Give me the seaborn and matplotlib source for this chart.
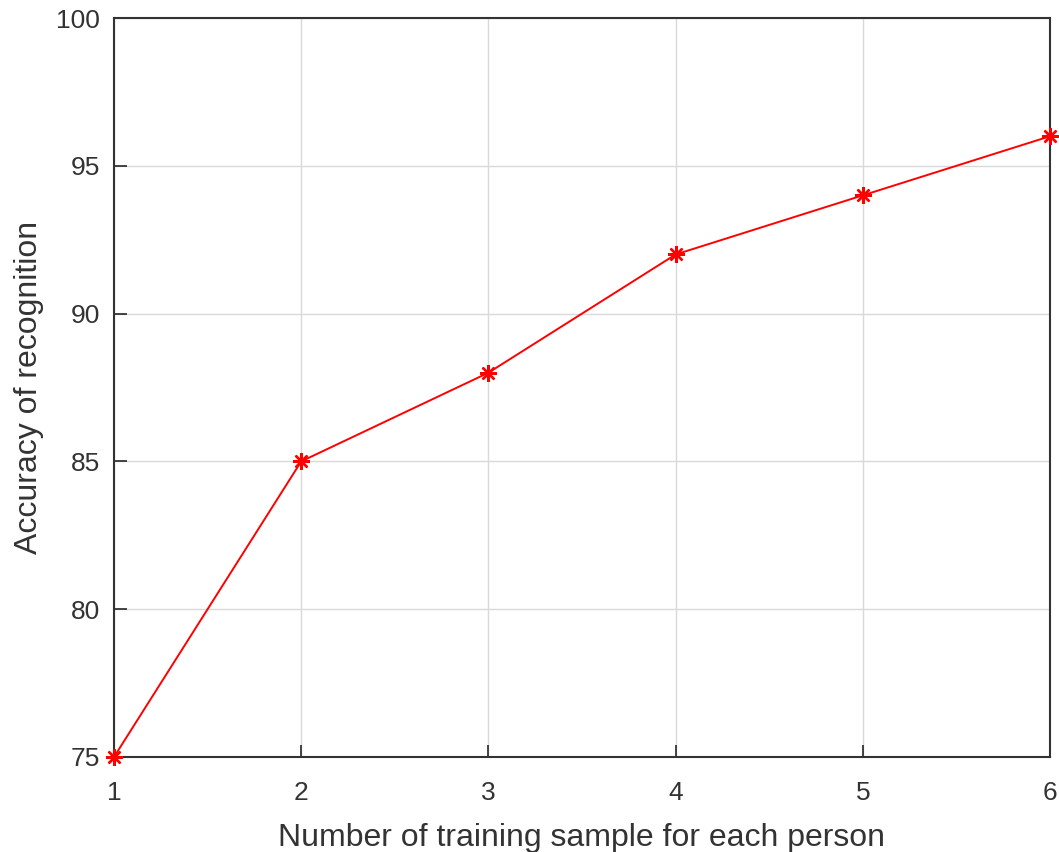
import matplotlib
matplotlib.use("Agg")
import matplotlib.pyplot as plt
import seaborn as sns
import pandas as pd

samples = [1, 2, 3, 4, 5, 6]
accuracy = [75, 85, 88, 92, 94, 96]
xticks = [1, 2, 3, 4, 5, 6]
yticks = [75, 80, 85, 90, 95, 100]

df = pd.DataFrame({"samples": samples, "accuracy": accuracy})

sns.set_style("white")
plt.rcParams['font.family'] = ['Liberation Sans', 'DejaVu Sans']

fig = plt.figure(figsize=(10.59, 8.52), dpi=100)
ax = fig.add_axes([114/1059, 1 - 757/852, (1050 - 114)/1059, (757 - 18)/852])

sns.lineplot(data=df, x="samples", y="accuracy", ax=ax, color="#ff0000",
             linewidth=1.4, marker=(8, 2, 0), markersize=12,
             markeredgecolor="#ff0000", markeredgewidth=1.7, zorder=5, clip_on=False)

ax.set_xlim(1, 6)
ax.set_ylim(75, 100)
ax.set_xticks(xticks)
ax.set_yticks(yticks)
ax.grid(True, color="#d9d9d9", linewidth=1.0)
ax.set_axisbelow(True)
for s in ax.spines.values():
    s.set_color("#333333")
    s.set_linewidth(1.5)
    s.set_visible(True)
ax.tick_params(direction="in", length=9, width=1.2, color="#262626",
               labelsize=19, labelcolor="#333333", top=False, right=False,
               bottom=True, left=True)
ax.tick_params(axis="x", pad=17)
ax.tick_params(axis="y", pad=10)
ax.set_xlabel("Number of training sample for each person", fontsize=23, color="#333333", labelpad=13)
ax.set_ylabel("Accuracy of recognition", fontsize=23, color="#333333", labelpad=9)

fig.savefig("out.png", dpi=100)
